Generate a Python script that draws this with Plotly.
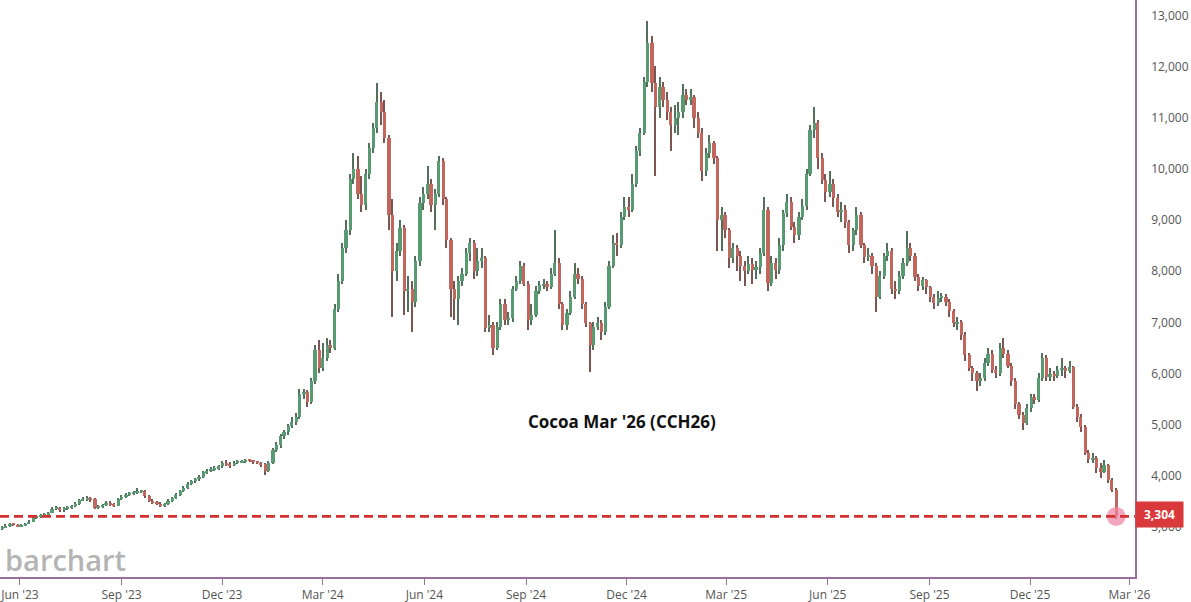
import numpy as np
import pandas as pd
import plotly.graph_objects as go

# ---------------- data (twice-weekly OHLC: Tue & Fri sessions) ----------------
fridays = pd.date_range("2023-05-19", periods=144, freq="W-FRI")
dates = []
for f in fridays:
    dates += [(f - pd.Timedelta(days=3)).strftime("%Y-%m-%d"), f.strftime("%Y-%m-%d")]
dates += ["2026-02-17"]

open_ = [
    3060, 3090, 3120, 3150, 3140, 3110, 3120, 3160, 3200, 3290, 3300, 3320, 3340, 3380, 3450, 3460,
    3430, 3450, 3470, 3500, 3550, 3620, 3640, 3660, 3640, 3470, 3480, 3520, 3560, 3540, 3510, 3640,
    3690, 3730, 3750, 3770, 3800, 3810, 3700, 3610, 3580, 3550, 3520, 3540, 3600, 3660, 3720, 3800,
    3860, 3940, 3990, 4030, 4080, 4170, 4200, 4230, 4240, 4280, 4340, 4310, 4300, 4350, 4360, 4380,
    4400, 4390, 4370, 4350, 4320, 4200, 4350, 4600, 4700, 4880, 4950, 5080, 5150, 5250, 5700, 5730,
    5550, 5950, 6550, 6200, 6400, 6650, 6600, 7350, 7900, 8550, 8900, 9900, 10100, 9600, 9400, 10000,
    10500, 10900, 11400, 11200, 10700, 9200, 8100, 8500, 8950, 7700, 7750, 7500, 8300, 9430, 9600, 9800,
    9400, 9600, 10250, 9500, 8700, 7750, 7550, 7900, 8050, 8450, 8650, 8100, 8300, 8350, 6980, 7050,
    6600, 7000, 7450, 7140, 7180, 7750, 7900, 8200, 7850, 7150, 7250, 7700, 7820, 7850, 7790, 8050,
    8250, 7450, 7050, 7280, 7600, 8050, 7950, 7450, 7080, 6650, 7000, 7080, 6900, 7400, 8200, 8650,
    8600, 9150, 9350, 9300, 9800, 10450, 10800, 11800, 12550, 11770, 11300, 11700, 11440, 11200, 10950, 11100,
    11200, 11550, 11450, 11500, 11100, 10800, 10050, 10400, 10600, 10300, 9100, 9200, 8900, 8350, 8550, 8400,
    8200, 8100, 8230, 8120, 8170, 8450, 9300, 7860, 8250, 8120, 8600, 9230, 9450, 8960, 8800, 9150,
    9380, 10000, 10860, 11000, 10300, 9880, 9650, 9800, 9520, 9250, 9300, 9050, 8600, 8900, 9200, 8600,
    8380, 8400, 8200, 7600, 8000, 8400, 8500, 7750, 7700, 8000, 8250, 8550, 8400, 7980, 7800, 7920,
    7780, 7600, 7480, 7580, 7600, 7500, 7320, 7080, 7100, 6850, 6450, 6200, 6100, 5950, 6000, 6300,
    6480, 6170, 6100, 6600, 6480, 6250, 5950, 5500, 5280, 5130, 5420, 5640, 5580, 6000, 6400, 6030,
    6080, 6050, 6170, 6200, 6150, 6220, 5450, 5250, 5050, 4550, 4420, 4450, 4250, 4180, 4300, 4020,
    3830]
high = [
    3110, 3160, 3180, 3170, 3150, 3160, 3180, 3230, 3310, 3340, 3350, 3380, 3400, 3490, 3500, 3480,
    3480, 3510, 3530, 3580, 3650, 3680, 3700, 3690, 3660, 3520, 3550, 3600, 3600, 3570, 3660, 3720,
    3760, 3790, 3800, 3850, 3830, 3820, 3720, 3640, 3600, 3580, 3570, 3640, 3690, 3760, 3830, 3890,
    3970, 4020, 4060, 4120, 4200, 4240, 4270, 4290, 4310, 4380, 4400, 4360, 4380, 4400, 4410, 4430,
    4420, 4410, 4390, 4370, 4340, 4380, 4640, 4750, 4920, 5000, 5120, 5250, 5320, 5800, 5800, 5780,
    6000, 6650, 6750, 6700, 6800, 6750, 7450, 8050, 8650, 9100, 10000, 10400, 10350, 9950, 10100, 10600,
    11000, 11770, 11600, 11450, 10750, 9500, 8650, 9100, 9000, 8000, 7900, 8400, 9550, 9750, 10150, 9900,
    9700, 10350, 10300, 9550, 8750, 7900, 8000, 8150, 8550, 8750, 8700, 8550, 8550, 8400, 7250, 7100,
    7100, 7550, 7550, 7300, 7800, 8000, 8300, 8250, 7900, 7450, 7800, 7900, 7950, 7900, 8150, 8900,
    8350, 7500, 7350, 7700, 8250, 8150, 8000, 7500, 7100, 7100, 7200, 7150, 7500, 8300, 8800, 8850,
    9250, 9550, 9550, 10000, 10550, 10900, 11900, 12980, 12700, 12100, 11900, 11800, 11600, 11300, 11350, 11400,
    11750, 11650, 11650, 11550, 11200, 10900, 10500, 10750, 10650, 10350, 9350, 9250, 8950, 8650, 8600, 8500,
    8300, 8400, 8350, 8300, 8550, 9550, 9350, 8400, 8350, 8750, 9300, 9600, 9550, 9050, 9250, 9500,
    10100, 10950, 11300, 11050, 10400, 10000, 10050, 9900, 9600, 9450, 9400, 9100, 8950, 9350, 9250, 8650,
    8550, 8450, 8250, 8100, 8450, 8650, 8550, 7900, 8100, 8350, 8880, 8650, 8450, 8050, 7990, 7950,
    7800, 7650, 7700, 7680, 7650, 7550, 7350, 7200, 7150, 6900, 6500, 6250, 6150, 6100, 6400, 6600,
    6550, 6250, 6700, 6800, 6550, 6300, 6000, 5550, 5350, 5500, 5700, 5700, 6100, 6500, 6450, 6200,
    6150, 6250, 6400, 6250, 6350, 6250, 5500, 5300, 5100, 4600, 4550, 4480, 4350, 4400, 4320, 4050,
    3850]
low = [
    3040, 3070, 3100, 3110, 3090, 3095, 3110, 3150, 3190, 3260, 3270, 3300, 3320, 3370, 3420, 3390,
    3400, 3430, 3450, 3490, 3530, 3600, 3610, 3590, 3440, 3450, 3460, 3500, 3510, 3480, 3500, 3620,
    3660, 3700, 3720, 3750, 3760, 3670, 3580, 3550, 3520, 3480, 3490, 3520, 3590, 3640, 3700, 3780,
    3840, 3910, 3960, 4000, 4050, 4140, 4170, 4200, 4220, 4260, 4280, 4250, 4280, 4320, 4340, 4350,
    4360, 4330, 4320, 4270, 4120, 4180, 4320, 4560, 4650, 4820, 4900, 5030, 5100, 5200, 5600, 5450,
    5500, 5900, 6100, 6150, 6350, 6500, 6550, 7300, 7850, 8450, 8800, 9800, 9500, 9250, 9300, 9900,
    10400, 10800, 10950, 10600, 8900, 7200, 7900, 8400, 7250, 7300, 6900, 7400, 8200, 9300, 9500, 9250,
    8900, 9550, 9400, 8550, 7200, 7150, 7050, 7800, 8000, 8300, 7950, 8000, 8150, 6900, 6900, 6450,
    6550, 6950, 7050, 7050, 7100, 7700, 7850, 7800, 6950, 7050, 7200, 7650, 7750, 7700, 7750, 8000,
    7350, 6950, 6950, 7250, 7550, 7850, 7350, 7000, 6130, 6550, 6950, 6750, 6850, 7350, 8150, 8400,
    8550, 9100, 9150, 9250, 9750, 10350, 10750, 11700, 11600, 9950, 11100, 11300, 11050, 10450, 10800, 10750,
    11100, 11350, 11350, 10900, 10700, 9850, 9950, 10300, 10200, 8500, 8500, 8750, 8150, 8250, 8100, 7900,
    7800, 8050, 7850, 7950, 8050, 8400, 7700, 7800, 7950, 8050, 8500, 9150, 8900, 8650, 8700, 9100,
    9300, 9950, 10700, 10100, 9800, 9450, 9550, 9350, 9150, 9050, 8950, 8450, 8500, 8800, 8550, 8250,
    8300, 8050, 7300, 7550, 7950, 8300, 7650, 7550, 7650, 7950, 8200, 8300, 7900, 7700, 7720, 7650,
    7500, 7350, 7420, 7500, 7420, 7200, 7000, 6950, 6750, 6350, 6150, 5950, 5750, 5850, 5950, 6250,
    6100, 6000, 6050, 6400, 6200, 5850, 5400, 5200, 5000, 5100, 5350, 5500, 5550, 5950, 5950, 5950,
    5950, 6000, 6050, 6000, 6100, 5400, 5150, 4950, 4500, 4350, 4350, 4150, 4050, 4150, 3950, 3780,
    3250]
close = [
    3090, 3120, 3150, 3140, 3110, 3120, 3160, 3200, 3290, 3300, 3320, 3340, 3380, 3450, 3460, 3430,
    3450, 3470, 3500, 3550, 3620, 3640, 3660, 3640, 3470, 3480, 3520, 3560, 3540, 3510, 3640, 3690,
    3730, 3750, 3770, 3800, 3810, 3700, 3610, 3580, 3550, 3520, 3540, 3600, 3660, 3720, 3800, 3860,
    3940, 3990, 4030, 4080, 4170, 4200, 4230, 4240, 4280, 4340, 4310, 4300, 4350, 4360, 4380, 4400,
    4390, 4370, 4350, 4320, 4200, 4350, 4600, 4700, 4880, 4950, 5080, 5150, 5250, 5700, 5730, 5550,
    5950, 6550, 6200, 6400, 6650, 6600, 7350, 7900, 8550, 8900, 9900, 10100, 9600, 9400, 10000, 10500,
    10900, 11400, 11200, 10700, 9200, 8100, 8500, 8950, 7700, 7750, 7500, 8300, 9430, 9600, 9800, 9400,
    9600, 10250, 9500, 8700, 7750, 7550, 7900, 8050, 8450, 8650, 8100, 8300, 8350, 6980, 7050, 6600,
    7000, 7450, 7140, 7180, 7750, 7900, 8200, 7850, 7150, 7250, 7700, 7820, 7850, 7790, 8050, 8250,
    7450, 7050, 7280, 7600, 8050, 7950, 7450, 7080, 6650, 7000, 7080, 6900, 7400, 8200, 8650, 8600,
    9150, 9350, 9300, 9800, 10450, 10800, 11800, 12550, 11770, 11300, 11700, 11440, 11200, 10950, 11100, 11200,
    11550, 11450, 11500, 11100, 10800, 10050, 10400, 10600, 10300, 9100, 9200, 8900, 8350, 8550, 8400, 8200,
    8100, 8230, 8120, 8170, 8450, 9300, 7860, 8250, 8120, 8600, 9230, 9450, 8960, 8800, 9150, 9380,
    10000, 10860, 11000, 10300, 9880, 9650, 9800, 9520, 9250, 9300, 9050, 8600, 8900, 9200, 8600, 8380,
    8400, 8200, 7600, 8000, 8400, 8500, 7750, 7700, 8000, 8250, 8550, 8400, 7980, 7800, 7920, 7780,
    7600, 7480, 7580, 7600, 7500, 7320, 7080, 7100, 6850, 6450, 6200, 6100, 5950, 6000, 6300, 6480,
    6170, 6100, 6600, 6480, 6250, 5950, 5500, 5280, 5130, 5420, 5640, 5580, 6000, 6400, 6030, 6080,
    6050, 6170, 6200, 6150, 6220, 5450, 5250, 5050, 4550, 4420, 4450, 4250, 4180, 4300, 4020, 3830,
    3304]

last_price = 3304
last_date = "2026-02-17"
y_ticks = [3000, 4000, 5000, 6000, 7000, 8000, 9000, 10000, 11000, 12000, 13000]
chart_title = "Cocoa Mar '26 (CCH26)"
logo_text = "barchart"

assert len(open_) == len(high) == len(low) == len(close) == len(dates), (
    len(open_), len(high), len(low), len(close), len(dates))

# ---------------- styling ----------------
GREEN = "#589b72"
RED = "#c2665e"
GREEN_WICK = "#52705c"
RED_WICK = "#7c5752"
AXIS = "#98709c"
LAST_RED = "#d3302f"
DAY_MS = 86400000

o = np.array(open_, dtype=float)
c = np.array(close, dtype=float)
h = np.maximum(np.array(high, dtype=float), np.maximum(o, c))
l = np.minimum(np.array(low, dtype=float), np.minimum(o, c))
up = c >= o
body_base = np.minimum(o, c)
body_len = np.maximum(np.abs(c - o), 20)

fig = go.Figure()
fig.add_trace(go.Bar(
    x=dates, y=h - l, base=l, width=DAY_MS * 1.2,
    marker=dict(color=np.where(up, GREEN_WICK, RED_WICK).tolist(), line=dict(width=0)),
    hoverinfo="skip", showlegend=False))
fig.add_trace(go.Bar(
    x=dates, y=body_len, base=body_base, width=DAY_MS * 2.9,
    marker=dict(color=np.where(up, GREEN, RED).tolist(), line=dict(width=0)),
    hoverinfo="skip", showlegend=False))

fig.add_trace(go.Scatter(
    x=[last_date], y=[last_price], mode="markers",
    marker=dict(size=19, color="rgba(242,130,165,0.7)", line=dict(width=0)),
    cliponaxis=False, hoverinfo="skip", showlegend=False))

fig.add_shape(type="line", xref="paper", x0=0, x1=1, yref="y", y0=last_price, y1=last_price,
              line=dict(color=LAST_RED, width=2.6, dash="9px,5px"), layer="above")

fig.add_annotation(xref="paper", x=1.0, xanchor="left", yref="y", y=last_price, yanchor="middle",
                   yshift=2,
                   text=f"<b>{last_price:,}</b>", showarrow=False, bgcolor="#d9393a",
                   font=dict(family="Open Sans", size=12, color="white"),
                   width=41, height=19, borderpad=3)

fig.add_annotation(xref="paper", x=0.548, yref="paper", y=0.246, text=f"<b>{chart_title}</b>",
                   showarrow=False, font=dict(family="Open Sans", size=17, color="#111111"))

fig.add_annotation(xref="paper", x=0.003, xanchor="left", yref="paper", y=0.031, yanchor="middle",
                   text=logo_text, showarrow=False,
                   font=dict(family="Open Sans", size=29, color="#b4b4b4", weight=600))

fig.update_layout(
    width=1191, height=602,
    margin=dict(l=0, r=56, t=0, b=25),
    paper_bgcolor="white", plot_bgcolor="white",
    barmode="overlay", bargap=0,
    showlegend=False,
    xaxis=dict(
        type="date", range=["2023-05-14", "2026-03-06"],
        tick0="2023-06-01", dtick="M3", tickformat="%b '%y",
        ticks="outside", ticklen=6, tickwidth=1, tickcolor=AXIS,
        showline=True, linecolor=AXIS, linewidth=1.5,
        showgrid=False, zeroline=False, automargin=False,
        tickfont=dict(family="Open Sans", size=12, color="#555555"),
    ),
    yaxis=dict(
        side="right", range=[2120, 13397],
        tickmode="array", tickvals=y_ticks, tickformat=",d",
        ticks="", showline=True, linecolor=AXIS, linewidth=1.5,
        showgrid=False, zeroline=False, automargin=False,
        ticklabelstandoff=12, ticklabelshift=-5,
        tickfont=dict(family="Open Sans", size=12, color="#555555"),
    ),
)

fig.write_html("out.html", config={"displayModeBar": False},
               post_script="document.body.style.margin='0';document.body.style.overflow='hidden';")
